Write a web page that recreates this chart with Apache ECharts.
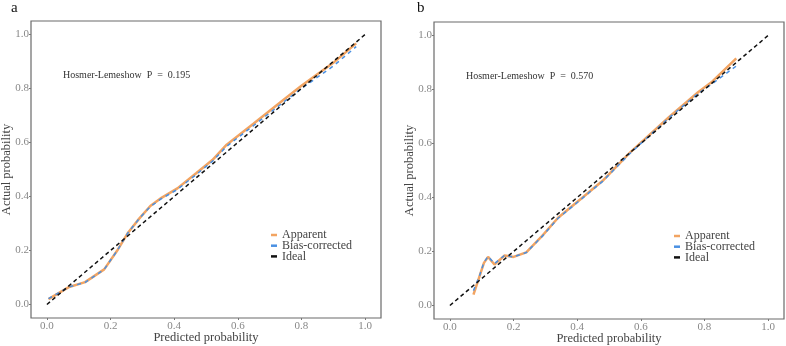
<!DOCTYPE html>
<html><head><meta charset="utf-8">
<script src="https://cdn.jsdelivr.net/npm/echarts@6/dist/echarts.min.js"></script>
<style>html,body{margin:0;padding:0;background:#fff}#c{width:786px;height:346px}</style>
</head><body><div id="c"></div>
<script>
const tickValues = [0, 0.2, 0.4, 0.6, 0.8, 1.0];
const panelTitles = ['a', 'b'];
const hlTexts = ['Hosmer-Lemeshow  P  =  0.195', 'Hosmer-Lemeshow  P  =  0.570'];
const seriesNames = ['Apparent', 'Bias-corrected', 'Ideal'];

const apparentA = [[0.005,0.02],[0.07,0.065],[0.12,0.083],[0.18,0.13],[0.22,0.198],[0.255,0.266],[0.29,0.318],[0.325,0.365],[0.36,0.395],[0.41,0.43],[0.47,0.487],[0.52,0.535],[0.565,0.592],[0.65,0.67],[0.73,0.745],[0.8,0.81],[0.9,0.895],[0.972,0.967]];
const biasA = [[0.005,0.022],[0.07,0.065],[0.12,0.082],[0.18,0.13],[0.22,0.198],[0.255,0.266],[0.29,0.318],[0.325,0.363],[0.36,0.392],[0.41,0.426],[0.47,0.482],[0.52,0.53],[0.565,0.586],[0.65,0.663],[0.73,0.737],[0.8,0.8],[0.9,0.883],[0.972,0.955]];
const idealA = [[0,0],[1,1]];

const apparentB = [[0.074,0.04],[0.093,0.108],[0.107,0.158],[0.12,0.18],[0.14,0.152],[0.172,0.185],[0.2,0.18],[0.24,0.197],[0.29,0.258],[0.34,0.325],[0.415,0.398],[0.48,0.462],[0.565,0.565],[0.69,0.699],[0.78,0.79],[0.825,0.83],[0.9,0.915]];
const biasB = [[0.074,0.055],[0.093,0.11],[0.107,0.16],[0.12,0.182],[0.14,0.155],[0.172,0.186],[0.2,0.18],[0.24,0.196],[0.29,0.256],[0.34,0.323],[0.415,0.396],[0.48,0.46],[0.565,0.562],[0.69,0.697],[0.78,0.785],[0.825,0.822],[0.9,0.887]];
const idealB = [[0,0],[1,1]];

const FONT = 'Liberation Serif';
const colors = ['#F2A462', '#4A90E2', '#111111'];
const grids = [
  {left: 31, right: 405, top: 21, bottom: 28},
  {left: 434, right: 2, top: 22, bottom: 27}
];
function xAx(i){
  return {type:'value', gridIndex:i, min:-0.05, max:1.05,
    name:'Predicted probability', nameLocation:'middle', nameGap:13, nameMoveOverlap:false,
    nameTextStyle:{fontFamily:FONT, fontSize:12.5, color:'#444'},
    axisLine:{show:false, onZero:false}, splitLine:{show:false},
    axisTick:{show:true, inside:false, length:2, lineStyle:{color:'#777'}, customValues:tickValues},
    axisLabel:{fontFamily:FONT, fontSize:11, color:'#888', margin:3, customValues:tickValues,
      formatter:v=>v.toFixed(1)}};
}
function yAx(i){
  return {type:'value', gridIndex:i, min:-0.05, max:1.05,
    name:'Actual probability', nameLocation:'middle', nameGap:18, nameMoveOverlap:false,
    nameTextStyle:{fontFamily:FONT, fontSize:12.5, color:'#444'},
    axisLine:{show:false, onZero:false}, splitLine:{show:false},
    axisTick:{show:true, inside:false, length:2, lineStyle:{color:'#777'}, customValues:tickValues},
    axisLabel:{fontFamily:FONT, fontSize:11, color:'#888', margin:2, customValues:tickValues,
      formatter:v=>v.toFixed(1)}};
}
function mk(name, data, i, k){
  const s = {name, type:'line', xAxisIndex:i, yAxisIndex:i, data, symbol:'none', smooth:false,
    lineStyle:{color:colors[k], width: k===0?2.5:1.5}, itemStyle:{color:colors[k]}, z: k===0?2:(k===1?3:4)};
  if(k===1) s.lineStyle.type=[4,4];
  if(k===2) s.lineStyle.type=[4,3];
  return s;
}
const series = [
  mk(seriesNames[0], apparentA, 0, 0), mk(seriesNames[1], biasA, 0, 1), mk(seriesNames[2], idealA, 0, 2),
  mk(seriesNames[0], apparentB, 1, 0), mk(seriesNames[1], biasB, 1, 1), mk(seriesNames[2], idealB, 1, 2)
];
function leg(left, top){
  return {orient:'vertical', left, top, padding:0, icon:'rect', itemWidth:6, itemHeight:2.5, itemGap:-1.3,
    data:seriesNames, selectedMode:false,
    textStyle:{fontFamily:FONT, fontSize:12, color:'#444', padding:[0,0,0,0]}};
}
const chart = echarts.init(document.getElementById('c'), null, {renderer:'canvas'});
chart.setOption({
  animation:false,
  backgroundColor:'#fff',
  color: colors,
  grid: grids.map(g=>Object.assign({show:true, borderColor:'#6a6a6a', borderWidth:1.2, backgroundColor:'#fff', containLabel:false, outerBoundsMode:'none'}, g)),
  xAxis:[xAx(0), xAx(1)],
  yAxis:[yAx(0), yAx(1)],
  legend:[leg(271, 229), leg(674, 230)],
  graphic:[
    {type:'text', left:11, top:1, style:{text:panelTitles[0], font:'15px '+FONT, fill:'#111'}},
    {type:'text', left:417, top:1, style:{text:panelTitles[1], font:'15px '+FONT, fill:'#111'}},
    {type:'text', left:63, top:70, style:{text:hlTexts[0], font:'10px '+FONT, fill:'#333'}},
    {type:'text', left:466, top:71, style:{text:hlTexts[1], font:'10px '+FONT, fill:'#333'}}
  ],
  series
});
</script></body></html>
